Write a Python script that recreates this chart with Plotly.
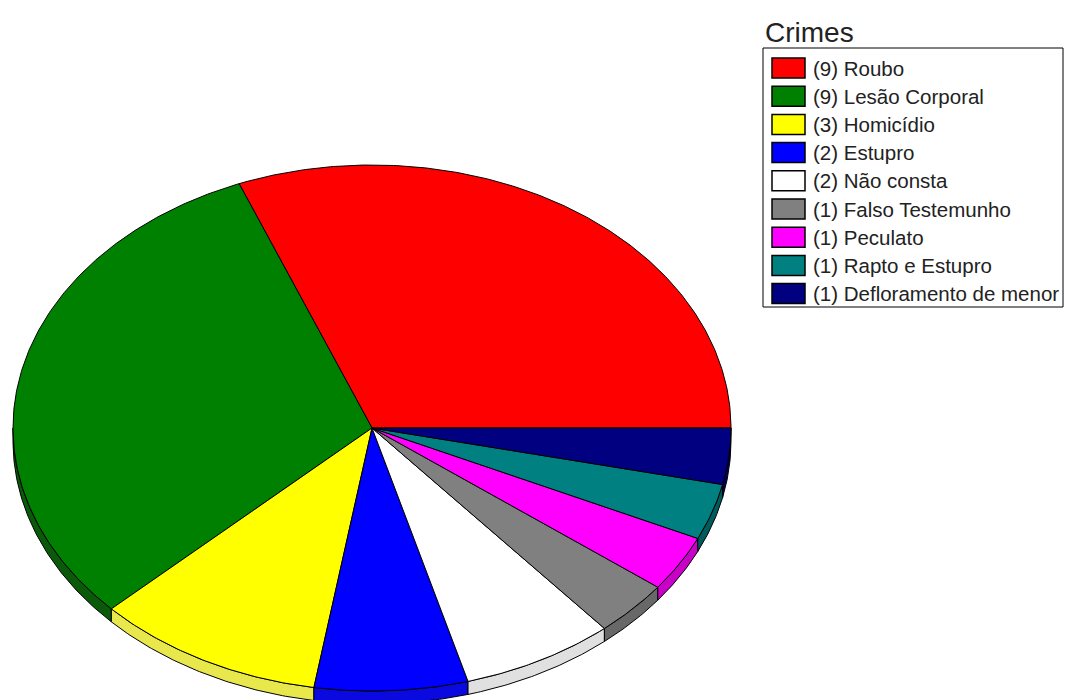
import numpy as np
import plotly.graph_objects as go

# ---- data ----
categories = ["Roubo", "Lesão Corporal", "Homicídio", "Estupro", "Não consta",
              "Falso Testemunho", "Peculato", "Rapto e Estupro", "Defloramento de menor"]
counts = [9, 9, 3, 2, 2, 1, 1, 1, 1]
top_colors = ["#ff0000", "#008000", "#ffff00", "#0000ff", "#ffffff",
              "#808080", "#ff00ff", "#008080", "#000080"]
side_colors = ["#c00000", "#0a5a0a", "#e8e84c", "#0a0ae0", "#e0e0e0",
               "#686868", "#c800c8", "#005c5c", "#00005c"]
legend_title = "Crimes"

# ---- layout params ----
PAGE_W, PAGE_H = 1072, 700
BODY = 8               # default page body margin in the html
W, H = PAGE_W - BODY, PAGE_H - BODY
CX, CY = 372, 428      # pie centre (page pixels)
RX, RY = 359, 263      # ellipse radii of the top face
DEPTH = 13             # thickness of the 3D wall
FONT = "Liberation Sans, Arial, sans-serif"

total = float(sum(counts))
bounds = np.concatenate([[0.0], np.cumsum(counts)]) / total * 2 * np.pi

fig = go.Figure()

# front walls (visible lower half of the ellipse)
for i, cat in enumerate(categories):
    t1, t2 = bounds[i], bounds[i + 1]
    lo, hi = max(t1, np.pi), min(t2, 2 * np.pi)
    if hi <= lo:
        continue
    n = max(3, int(np.degrees(hi - lo) * 2))
    t = np.linspace(lo, hi, n)
    xs = CX + RX * np.cos(t)
    ys = CY - RY * np.sin(t)
    x = np.concatenate([xs, xs[::-1], xs[:1]])
    y = np.concatenate([ys, ys[::-1] + DEPTH, ys[:1]])
    fig.add_trace(go.Scatter(x=x, y=y, mode="lines", fill="toself",
                             fillcolor=side_colors[i],
                             line=dict(color="black", width=1),
                             hoverinfo="skip", showlegend=False))

# top faces
for i, cat in enumerate(categories):
    t1, t2 = bounds[i], bounds[i + 1]
    n = max(3, int(np.degrees(t2 - t1) * 2))
    t = np.linspace(t1, t2, n)
    x = np.concatenate([[CX], CX + RX * np.cos(t), [CX]])
    y = np.concatenate([[CY], CY - RY * np.sin(t), [CY]])
    fig.add_trace(go.Scatter(x=x, y=y, mode="lines", fill="toself",
                             fillcolor=top_colors[i],
                             line=dict(color="black", width=1),
                             name=f"({counts[i]}) {cat}",
                             hoveron="fills", hoverinfo="name",
                             showlegend=False))

# ---- manual legend (box, swatches, labels) ----
LX0, LY0, LX1, LY1 = 763, 48, 1063, 307
ROW0, ROWH = 68, 28.2
shapes = [dict(type="rect", xref="x", yref="y", x0=LX0, y0=LY0, x1=LX1, y1=LY1,
               line=dict(color="black", width=1), fillcolor="white", layer="below")]
annotations = [dict(text=legend_title, x=763, y=32, xref="x", yref="y",
                    xanchor="left", yanchor="middle", showarrow=False,
                    font=dict(family=FONT, size=28, color="#222222"))]
for i, cat in enumerate(categories):
    yc = ROW0 + ROWH * i
    shapes.append(dict(type="rect", xref="x", yref="y",
                       x0=772, x1=805, y0=yc - 10, y1=yc + 10,
                       fillcolor=top_colors[i], line=dict(color="black", width=1.5)))
    annotations.append(dict(text=f"({counts[i]}) {cat}", x=811, y=yc,
                            xref="x", yref="y", xanchor="left", yanchor="middle",
                            showarrow=False,
                            font=dict(family=FONT, size=20.5, color="#222222")))

fig.update_layout(
    width=W, height=H,
    margin=dict(l=0, r=0, t=0, b=0),
    paper_bgcolor="white", plot_bgcolor="white",
    xaxis=dict(range=[BODY, PAGE_W], visible=False, fixedrange=True),
    yaxis=dict(range=[PAGE_H, BODY], visible=False, fixedrange=True),
    shapes=shapes, annotations=annotations,
    showlegend=False,
)

fig.write_html("out.html")
